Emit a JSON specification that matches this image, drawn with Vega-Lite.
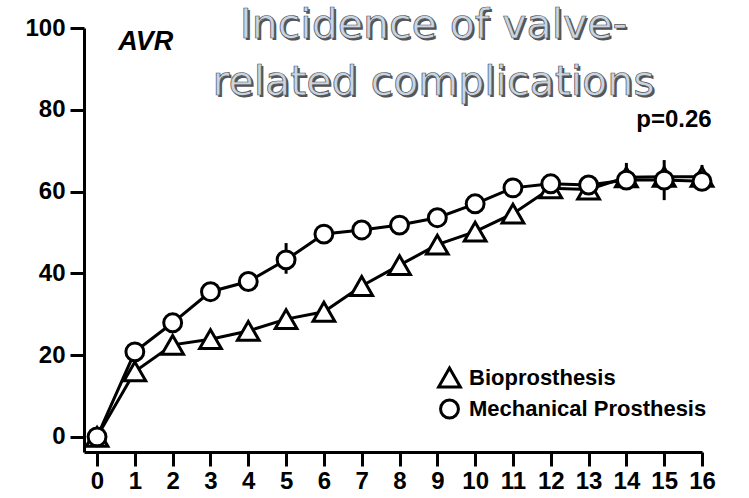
{
  "$schema": "https://vega.github.io/schema/vega-lite/v6.json",
  "width": 618,
  "height": 424,
  "autosize": {"type": "none"},
  "padding": {"left": 84, "top": 28, "right": 47, "bottom": 46},
  "background": "white",
  "config": {
    "view": {"stroke": null},
    "font": "Liberation Sans",
    "axis": {
      "grid": false,
      "domainColor": "black",
      "domainWidth": 3,
      "tickColor": "black",
      "tickWidth": 3,
      "tickSize": 14,
      "labelColor": "black",
      "labelFont": "Liberation Sans",
      "labelFontSize": 24,
      "labelFontWeight": "bold",
      "labelOverlap": false,
      "labelBound": false,
      "labelFlush": false,
      "title": null
    }
  },
  "datasets": {
    "curves": [
      {"year": 0, "series": "Bioprosthesis", "pct": 0},
      {"year": 1, "series": "Bioprosthesis", "pct": 16},
      {"year": 2, "series": "Bioprosthesis", "pct": 22.5},
      {"year": 3, "series": "Bioprosthesis", "pct": 23.9},
      {"year": 4, "series": "Bioprosthesis", "pct": 25.9},
      {"year": 5, "series": "Bioprosthesis", "pct": 28.8},
      {"year": 6, "series": "Bioprosthesis", "pct": 30.6},
      {"year": 7, "series": "Bioprosthesis", "pct": 36.9},
      {"year": 8, "series": "Bioprosthesis", "pct": 42},
      {"year": 9, "series": "Bioprosthesis", "pct": 47},
      {"year": 10, "series": "Bioprosthesis", "pct": 50.2},
      {"year": 11, "series": "Bioprosthesis", "pct": 54.6},
      {"year": 12, "series": "Bioprosthesis", "pct": 60.8},
      {"year": 13, "series": "Bioprosthesis", "pct": 60.5},
      {"year": 14, "series": "Bioprosthesis", "pct": 63.5},
      {"year": 15, "series": "Bioprosthesis", "pct": 63.6},
      {"year": 16, "series": "Bioprosthesis", "pct": 63.6},
      {"year": 0, "series": "Mechanical Prosthesis", "pct": 0},
      {"year": 1, "series": "Mechanical Prosthesis", "pct": 20.8},
      {"year": 2, "series": "Mechanical Prosthesis", "pct": 27.9},
      {"year": 3, "series": "Mechanical Prosthesis", "pct": 35.5},
      {"year": 4, "series": "Mechanical Prosthesis", "pct": 38},
      {"year": 5, "series": "Mechanical Prosthesis", "pct": 43.3},
      {"year": 6, "series": "Mechanical Prosthesis", "pct": 49.6},
      {"year": 7, "series": "Mechanical Prosthesis", "pct": 50.6},
      {"year": 8, "series": "Mechanical Prosthesis", "pct": 51.8},
      {"year": 9, "series": "Mechanical Prosthesis", "pct": 53.6},
      {"year": 10, "series": "Mechanical Prosthesis", "pct": 57},
      {"year": 11, "series": "Mechanical Prosthesis", "pct": 60.9},
      {"year": 12, "series": "Mechanical Prosthesis", "pct": 61.9},
      {"year": 13, "series": "Mechanical Prosthesis", "pct": 61.6},
      {"year": 14, "series": "Mechanical Prosthesis", "pct": 62.8},
      {"year": 15, "series": "Mechanical Prosthesis", "pct": 62.8},
      {"year": 16, "series": "Mechanical Prosthesis", "pct": 62.5}
    ],
    "errors": [
      {"year": 5, "series": "Mechanical Prosthesis", "lo": 39.9, "hi": 47.4},
      {"year": 14, "series": "Bioprosthesis", "lo": 61, "hi": 67},
      {"year": 15, "series": "Mechanical Prosthesis", "lo": 57.9, "hi": 67.7},
      {"year": 16, "series": "Bioprosthesis", "lo": 61, "hi": 66.5}
    ]
  },
  "layer": [
    {
      "data": {"name": "curves"},
      "mark": {"type": "line", "stroke": "black", "strokeWidth": 3},
      "encoding": {
        "x": {
          "field": "year",
          "type": "quantitative",
          "scale": {"domain": [-0.345, 16], "nice": false, "zero": false},
          "axis": {"values": [0, 1, 2, 3, 4, 5, 6, 7, 8, 9, 10, 11, 12, 13, 14, 15, 16], "labelPadding": 3, "labelAngle": 0, "tickCount": 17, "labelOverlap": false, "labelFlush": false}
        },
        "y": {
          "field": "pct",
          "type": "quantitative",
          "scale": {"domain": [-3.7, 100], "nice": false, "zero": false},
          "axis": {"values": [0, 20, 40, 60, 80, 100], "labelPadding": 5, "labelFlush": false}
        },
        "detail": {"field": "series"}
      }
    },
    {
      "data": {"name": "errors"},
      "mark": {"type": "rule", "stroke": "black", "strokeWidth": 3},
      "encoding": {
        "x": {"field": "year", "type": "quantitative", "axis": {"values": [0, 1, 2, 3, 4, 5, 6, 7, 8, 9, 10, 11, 12, 13, 14, 15, 16], "labelPadding": 3, "labelAngle": 0, "tickCount": 17, "labelOverlap": false, "labelFlush": false}},
        "y": {"field": "lo", "type": "quantitative", "axis": {"values": [0, 20, 40, 60, 80, 100], "labelPadding": 5, "labelFlush": false}},
        "y2": {"field": "hi"}
      }
    },
    {
      "data": {"name": "curves"},
      "mark": {"type": "point", "filled": false, "fill": "white", "fillOpacity": 1, "strokeWidth": 3, "opacity": 1},
      "encoding": {
        "x": {"field": "year", "type": "quantitative", "axis": {"values": [0, 1, 2, 3, 4, 5, 6, 7, 8, 9, 10, 11, 12, 13, 14, 15, 16], "labelPadding": 3, "labelAngle": 0, "tickCount": 17, "labelOverlap": false, "labelFlush": false}},
        "y": {"field": "pct", "type": "quantitative", "axis": {"values": [0, 20, 40, 60, 80, 100], "labelPadding": 5, "labelFlush": false}},
        "color": {
          "field": "series",
          "type": "nominal",
          "scale": {"domain": ["Bioprosthesis", "Mechanical Prosthesis"], "range": ["black", "black"]},
          "legend": {
            "orient": "none",
            "legendX": 353,
            "legendY": 337,
            "title": null,
            "symbolStrokeWidth": 3,
            "labelFont": "Liberation Sans",
            "labelFontSize": 22,
            "labelFontWeight": "bold",
            "labelColor": "black",
            "labelLimit": 400,
            "rowPadding": 1,
            "labelOffset": 7
          }
        },
        "shape": {
          "field": "series",
          "type": "nominal",
          "scale": {"domain": ["Bioprosthesis", "Mechanical Prosthesis"], "range": ["triangle-up", "circle"]},
          "legend": {
            "orient": "none",
            "legendX": 353,
            "legendY": 337,
            "title": null,
            "symbolStrokeWidth": 3,
            "labelFont": "Liberation Sans",
            "labelFontSize": 22,
            "labelFontWeight": "bold",
            "labelColor": "black",
            "labelLimit": 400,
            "rowPadding": 1,
            "labelOffset": 7
          }
        },
        "size": {
          "field": "series",
          "type": "nominal",
          "scale": {"domain": ["Bioprosthesis", "Mechanical Prosthesis"], "range": [470, 320]},
          "legend": {
            "orient": "none",
            "legendX": 353,
            "legendY": 337,
            "title": null,
            "symbolStrokeWidth": 3,
            "labelFont": "Liberation Sans",
            "labelFontSize": 22,
            "labelFontWeight": "bold",
            "labelColor": "black",
            "labelLimit": 400,
            "rowPadding": 1,
            "labelOffset": 7
          }
        }
      }
    },
    {
      "data": {"values": [{}]},
      "mark": {"type": "text", "text": ["Incidence of valve-", "related complications"], "font": "DejaVu Sans", "fontSize": 41, "lineHeight": 57, "align": "center", "baseline": "alphabetic", "fill": "#555555", "dx": 2, "dy": 2},
      "encoding": {
        "x": {"datum": 8.9, "type": "quantitative", "axis": {"values": [0, 1, 2, 3, 4, 5, 6, 7, 8, 9, 10, 11, 12, 13, 14, 15, 16], "labelPadding": 3, "labelAngle": 0, "tickCount": 17, "labelOverlap": false, "labelFlush": false}},
        "y": {"datum": 97.5, "type": "quantitative", "axis": {"values": [0, 20, 40, 60, 80, 100], "labelPadding": 5, "labelFlush": false}}
      }
    },
    {
      "data": {"values": [{}]},
      "mark": {"type": "text", "text": ["Incidence of valve-", "related complications"], "font": "DejaVu Sans", "fontSize": 41, "lineHeight": 57, "align": "center", "baseline": "alphabetic", "fill": "#c8d5e4", "stroke": "#505050", "strokeWidth": 0.7},
      "encoding": {
        "x": {"datum": 8.9, "type": "quantitative", "axis": {"values": [0, 1, 2, 3, 4, 5, 6, 7, 8, 9, 10, 11, 12, 13, 14, 15, 16], "labelPadding": 3, "labelAngle": 0, "tickCount": 17, "labelOverlap": false, "labelFlush": false}},
        "y": {"datum": 97.5, "type": "quantitative", "axis": {"values": [0, 20, 40, 60, 80, 100], "labelPadding": 5, "labelFlush": false}}
      }
    },
    {
      "data": {"values": [{}]},
      "mark": {"type": "text", "text": "AVR", "font": "Liberation Sans", "fontStyle": "italic", "fontWeight": "bold", "fontSize": 27, "align": "left", "baseline": "alphabetic", "fill": "black"},
      "encoding": {
        "x": {"datum": 0.56, "type": "quantitative", "axis": {"values": [0, 1, 2, 3, 4, 5, 6, 7, 8, 9, 10, 11, 12, 13, 14, 15, 16], "labelPadding": 3, "labelAngle": 0, "tickCount": 17, "labelOverlap": false, "labelFlush": false}},
        "y": {"datum": 94.6, "type": "quantitative", "axis": {"values": [0, 20, 40, 60, 80, 100], "labelPadding": 5, "labelFlush": false}}
      }
    },
    {
      "data": {"values": [{}]},
      "mark": {"type": "text", "text": "p=0.26", "font": "Liberation Sans", "fontWeight": "bold", "fontSize": 24, "align": "center", "baseline": "alphabetic", "fill": "black"},
      "encoding": {
        "x": {"datum": 15.26, "type": "quantitative", "axis": {"values": [0, 1, 2, 3, 4, 5, 6, 7, 8, 9, 10, 11, 12, 13, 14, 15, 16], "labelPadding": 3, "labelAngle": 0, "tickCount": 17, "labelOverlap": false, "labelFlush": false}},
        "y": {"datum": 75.8, "type": "quantitative", "axis": {"values": [0, 20, 40, 60, 80, 100], "labelPadding": 5, "labelFlush": false}}
      }
    }
  ]
}
